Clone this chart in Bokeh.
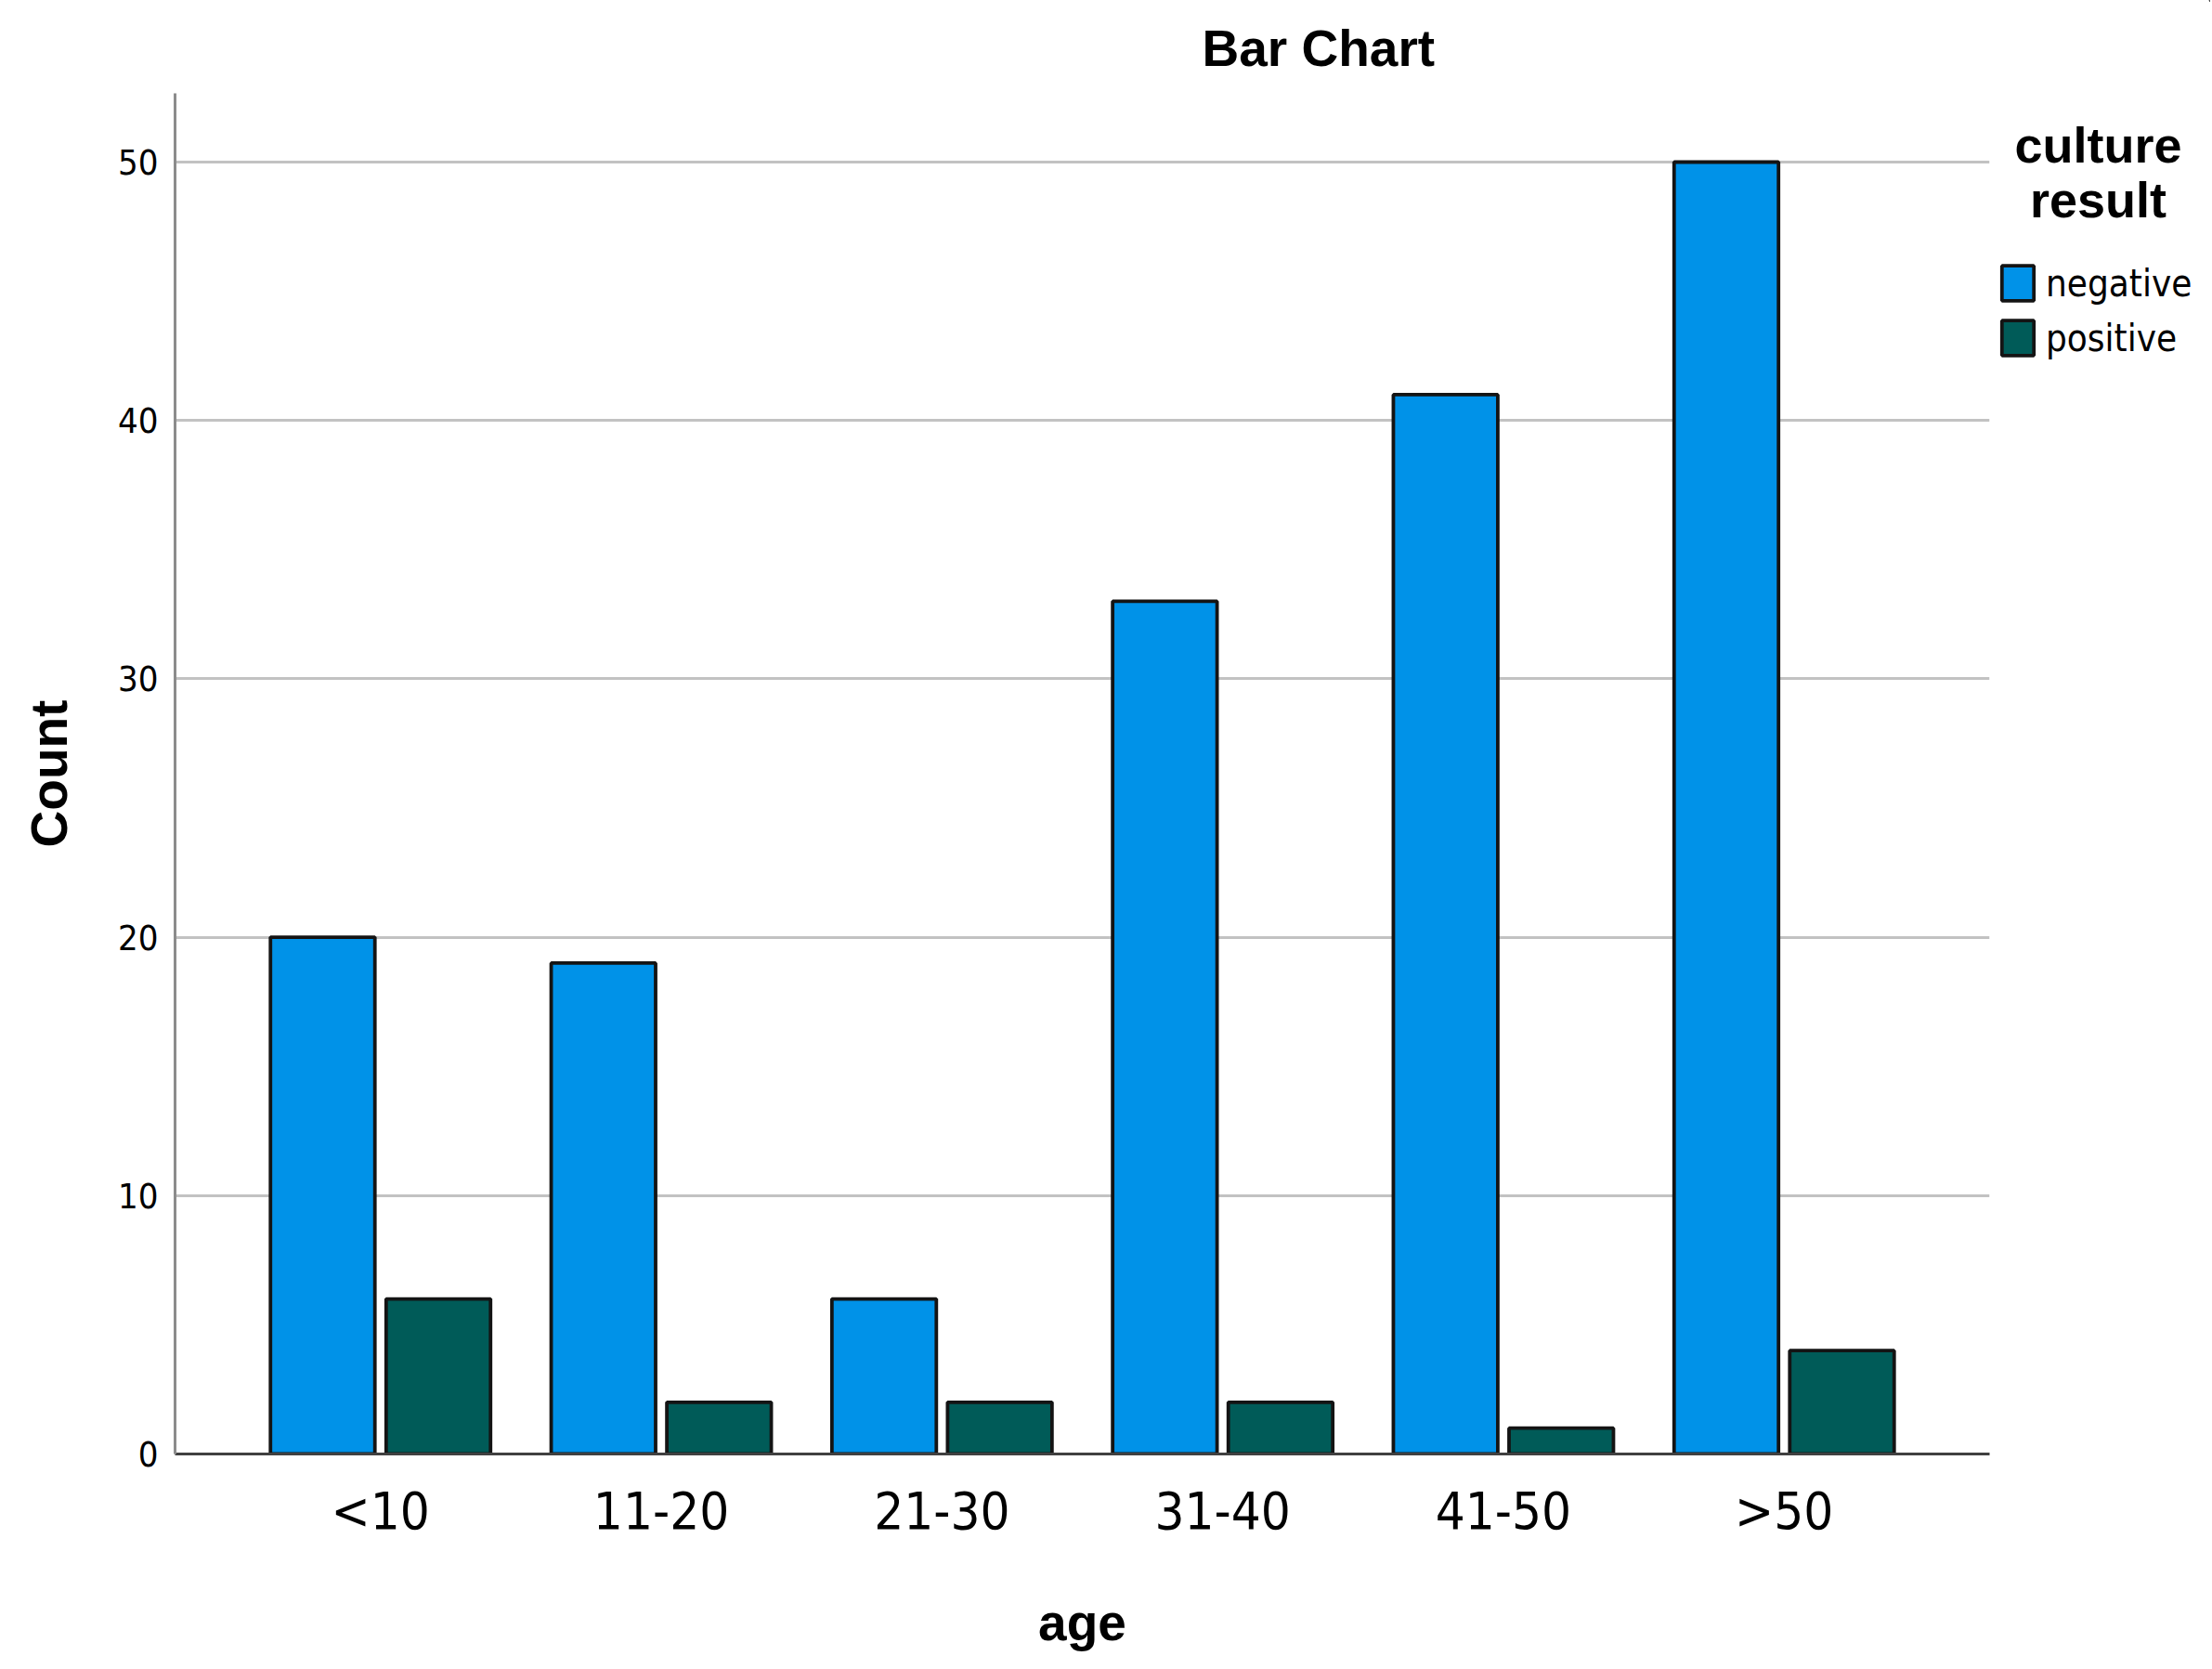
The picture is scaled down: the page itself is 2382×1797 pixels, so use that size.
from bokeh.plotting import figure
from bokeh.models import (Range1d, FactorRange, ColumnDataSource, Legend, LegendItem,
                          FixedTicker, Label)
from bokeh.layouts import row
from bokeh.transform import dodge
from bokeh.embed import file_html
from bokeh.resources import INLINE

# ---- data ----
categories = ["<10", "11-20", "21-30", "31-40", "41-50", ">50"]
negative = [20, 19, 6, 33, 41, 50]
positive = [6, 2, 2, 2, 1, 4]
y_ticks = [0, 10, 20, 30, 40, 50]
series_names = ["negative", "positive"]
series_colors = ["#0092E8", "#005B58"]
legend_title = "culture\nresult"

NARROW = "'Liberation Sans Narrow', 'DejaVu Sans Condensed', 'Liberation Sans', sans-serif"
BOLD = "'Liberation Sans', Arial, sans-serif"
OUTLINE = "#141414"

src = ColumnDataSource(dict(age=categories, negative=negative, positive=positive))

# ---------------- main chart ----------------
p = figure(width=2146, height=1797,
           x_range=FactorRange(*categories, range_padding=0.0773),
           y_range=Range1d(0, 52.66),
           output_backend="svg", toolbar_location=None,
           title="Bar Chart",
           min_border_left=188, min_border_right=4,
           min_border_top=99, min_border_bottom=232)
p.frame_align = False

p.title.align = "left"
p.title.offset = 1106
p.title.standoff = 36
p.title.text_font = BOLD
p.title.text_font_size = "55px"
p.title.text_font_style = "bold"
p.title.text_color = "#000000"

p.outline_line_color = None
p.background_fill_color = "white"
p.border_fill_color = "white"

p.vbar(x=dodge("age", -0.206, range=p.x_range), top="negative", width=0.372,
       source=src, fill_color=series_colors[0], line_color=OUTLINE, line_width=3.8)
p.vbar(x=dodge("age", 0.206, range=p.x_range), top="positive", width=0.372,
       source=src, fill_color=series_colors[1], line_color=OUTLINE, line_width=3.8)

p.xgrid.grid_line_color = None
p.ygrid.grid_line_color = "#c2c2c2"
p.ygrid.grid_line_width = 3
p.yaxis.ticker = FixedTicker(ticks=y_ticks)

p.yaxis.axis_line_color = "#8c8c8c"
p.yaxis.axis_line_width = 3
p.yaxis.major_tick_line_color = None
p.yaxis.minor_tick_line_color = None
p.yaxis.major_tick_out = 0
p.yaxis.major_label_standoff = 18
p.yaxis.major_label_text_font = NARROW
p.yaxis.major_label_text_font_size = "38px"
p.yaxis.major_label_text_color = "#000000"
p.yaxis.axis_label = "Count"
p.yaxis.axis_label_text_font = BOLD
p.yaxis.axis_label_text_font_size = "55px"
p.yaxis.axis_label_text_font_style = "bold"
p.yaxis.axis_label_text_color = "#000000"
p.yaxis.axis_label_standoff = 40

p.xaxis.axis_line_color = "#404040"
p.xaxis.axis_line_width = 3
p.xaxis.major_tick_line_color = None
p.xaxis.minor_tick_line_color = None
p.xaxis.major_tick_out = 0
p.xaxis.major_label_standoff = 28
p.xaxis.major_label_text_font = NARROW
p.xaxis.major_label_text_font_size = "56px"
p.xaxis.major_label_text_color = "#000000"
p.xaxis.axis_label = "age"
p.xaxis.axis_label_text_font = BOLD
p.xaxis.axis_label_text_font_size = "55px"
p.xaxis.axis_label_text_font_style = "bold"
p.xaxis.axis_label_text_color = "#000000"
p.xaxis.axis_label_standoff = 54

# ---------------- legend column at the right ----------------
lg = figure(width=234, height=1797, x_range=Range1d(0, 1), y_range=Range1d(0, 1),
            output_backend="svg", toolbar_location=None,
            x_axis_location=None, y_axis_location=None,
            min_border_left=0, min_border_right=0, min_border_top=0, min_border_bottom=0)
lg.frame_align = False
lg.outline_line_color = None
lg.grid.grid_line_color = None
lg.background_fill_color = "white"
lg.border_fill_color = "white"

# swatch renderers, placed far outside the visible ranges so only the legend shows them
items = []
for i, name in enumerate(series_names):
    r = lg.vbar(x=[50], bottom=[5], top=[6], width=0.001, fill_color=series_colors[i],
                line_color=OUTLINE, line_width=3.8)
    items.append(LegendItem(label=name, renderers=[r]))

legend = Legend(items=items, location=(5, 1410),
                glyph_width=43, glyph_height=47, label_height=47,
                label_standoff=9, spacing=12, padding=0, margin=0,
                border_line_color=None, background_fill_alpha=0,
                label_text_font=NARROW, label_text_font_size="40px",
                label_text_color="#000000")
lg.add_layout(legend)

lg.add_layout(Label(x=113, y=1612, x_units="screen", y_units="screen",
                    text=legend_title, text_align="center", text_baseline="middle",
                    text_font=BOLD, text_font_size="54px", text_font_style="bold",
                    text_line_height=0.98, text_color="#000000"))

open("out.html", "w").write(file_html(row(p, lg), INLINE))
